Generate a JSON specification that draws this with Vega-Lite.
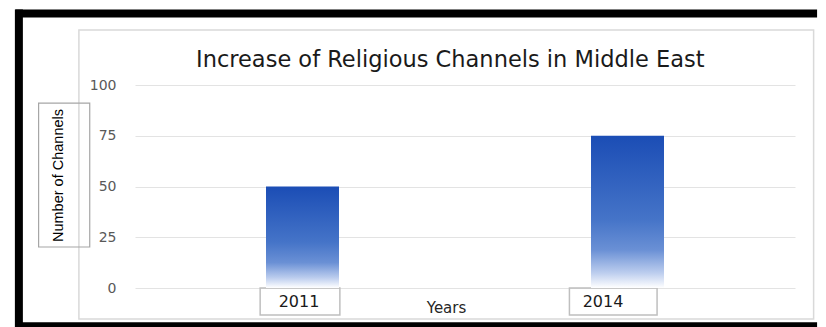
{
  "$schema": "https://vega.github.io/schema/vega-lite/v6.json",
  "width": 660,
  "height": 203,
  "autosize": {"type": "none"},
  "padding": {"left": 135, "top": 85, "right": 31, "bottom": 39},
  "background": "white",
  "config": {"view": {"stroke": null}},
  "data": {"values": [
    {"year": 2011, "channels": 50},
    {"year": 2014, "channels": 75}
  ]},
  "layer": [
    {
      "data": {"values": [{}]},
      "mark": {"type": "rule", "stroke": "#000000", "strokeWidth": 8},
      "encoding": {
        "x": {"datum": 2008.35, "type": "quantitative"},
        "x2": {"datum": 2015.75},
        "y": {"datum": 135.2, "type": "quantitative"}
      }
    },
    {
      "data": {"values": [{}]},
      "mark": {"type": "rule", "stroke": "#000000", "strokeWidth": 8},
      "encoding": {
        "x": {"datum": 2008.35, "type": "quantitative"},
        "x2": {"datum": 2015.75},
        "y": {"datum": -18.9, "type": "quantitative"}
      }
    },
    {
      "data": {"values": [{}]},
      "mark": {"type": "rule", "stroke": "#000000", "strokeWidth": 8},
      "encoding": {
        "x": {"datum": 2008.382, "type": "quantitative"},
        "y": {"datum": 137.2, "type": "quantitative"},
        "y2": {"datum": -20.9}
      }
    },
    {
      "data": {"values": [{}]},
      "mark": {"type": "rect", "fillOpacity": 0, "stroke": "#d9d9d9", "strokeWidth": 1.5},
      "encoding": {
        "x": {"datum": 2008.936, "type": "quantitative"},
        "x2": {"datum": 2015.718},
        "y": {"datum": 127.1, "type": "quantitative"},
        "y2": {"datum": -15.3}
      }
    },
    {
      "data": {"values": [{"title": "Increase of Religious Channels in Middle East"}]},
      "mark": {
        "type": "text",
        "font": "DejaVu Sans",
        "fontSize": 22.5,
        "color": "#1a1a1a",
        "align": "center",
        "baseline": "alphabetic"
      },
      "encoding": {
        "x": {"datum": 2012.364, "type": "quantitative"},
        "y": {"datum": 108.9, "type": "quantitative"},
        "text": {"field": "title"}
      }
    },
    {
      "data": {"values": [{}]},
      "mark": {"type": "rect", "fillOpacity": 0, "stroke": "#a6a6a6", "strokeWidth": 1.2},
      "encoding": {
        "x": {"datum": 2008.564, "type": "quantitative"},
        "x2": {"datum": 2009.036},
        "y": {"datum": 91.1, "type": "quantitative"},
        "y2": {"datum": 20.2}
      }
    },
    {
      "data": {"values": [{}]},
      "mark": {"type": "rect", "fillOpacity": 0, "stroke": "#bfbfbf", "strokeWidth": 1.5},
      "encoding": {
        "x": {"datum": 2010.609, "type": "quantitative"},
        "x2": {"datum": 2011.345},
        "y": {"datum": 0, "type": "quantitative"},
        "y2": {"datum": -13.3}
      }
    },
    {
      "data": {"values": [{}]},
      "mark": {"type": "rect", "fillOpacity": 0, "stroke": "#bfbfbf", "strokeWidth": 1.5},
      "encoding": {
        "x": {"datum": 2013.464, "type": "quantitative"},
        "x2": {"datum": 2014.273},
        "y": {"datum": 0, "type": "quantitative"},
        "y2": {"datum": -13.3}
      }
    },
    {
      "mark": {
        "type": "bar",
        "width": 73,
        "color": {
          "gradient": "linear",
          "x1": 0, "y1": 0, "x2": 0, "y2": 1,
          "stops": [
            {"offset": 0, "color": "#1b4db5"},
            {"offset": 0.55, "color": "#4574c8"},
            {"offset": 0.75, "color": "#6a90d5"},
            {"offset": 0.9, "color": "#bccdee"},
            {"offset": 1, "color": "#ffffff"}
          ]
        }
      },
      "encoding": {
        "x": {
          "field": "year",
          "type": "quantitative",
          "scale": {"domain": [2009.5, 2015.5], "nice": false, "zero": false},
          "axis": {
            "values": [2011, 2014],
            "format": "d",
            "title": "Years",
            "domain": false,
            "ticks": false,
            "tickSize": 0,
            "grid": false,
            "labelFont": "DejaVu Sans",
            "labelFontSize": 16,
            "labelColor": "#1a1a1a",
            "labelBaseline": "middle",
            "labelPadding": 13,
            "labelOffset": {"condition": {"test": "datum.value == 2014", "value": -25}, "value": -4},
            "titleFont": "DejaVu Sans",
            "titleFontSize": 15,
            "titleFontWeight": "normal",
            "titleColor": "#262626",
            "titleX": 311,
            "titleY": 19,
            "titleAlign": "center",
            "titleBaseline": "middle"
          }
        },
        "y": {
          "field": "channels",
          "type": "quantitative",
          "scale": {"domain": [0, 100], "nice": false},
          "axis": {
            "values": [0, 25, 50, 75, 100],
            "title": "Number of Channels",
            "domain": false,
            "ticks": false,
            "tickSize": 0,
            "grid": true,
            "gridColor": "#e3e3e3",
            "gridWidth": 1.2,
            "labelFont": "DejaVu Sans",
            "labelFontSize": 14,
            "labelColor": "#595959",
            "labelPadding": 19,
            "titleFont": "Liberation Sans",
            "titleFontSize": 14.5,
            "titleFontWeight": "normal",
            "titleColor": "#000000",
            "titleX": -77,
            "titleY": 90,
            "titleAngle": 270,
            "titleAlign": "center",
            "titleBaseline": "middle"
          }
        }
      }
    }
  ]
}
